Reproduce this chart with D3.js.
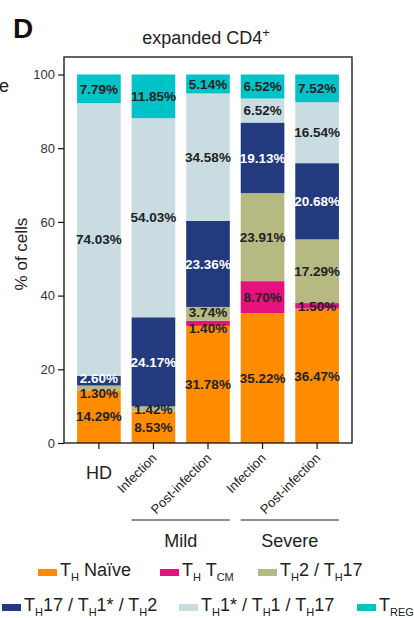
<!DOCTYPE html>
<html>
<head>
<meta charset="utf-8">
<script src="https://cdn.jsdelivr.net/npm/d3@7"></script>
<style>
  body { margin: 0; background: #fff; }
  svg { display: block; font-family: "Liberation Sans", Arial, sans-serif; }
</style>
</head>
<body>
<svg id="chart" width="414" height="618"></svg>
<script>
// Categories (bars) and their tick labels
const categories = ["HD", "Mild Infection", "Mild Post-infection", "Severe Infection", "Severe Post-infection"];
const tickLabels = ["HD", "Infection", "Post-infection", "Infection", "Post-infection"];

// Subsets, bottom to top
const subsets = ["naive", "tcm", "th2th17", "th17th1th2", "th1", "treg"];
const subsetColors = ["#ff8c00", "#e5127d", "#b6b982", "#243a7e", "#c8dce1", "#00c3c8"];

// % of cells per subset, one value per category
const naive = [14.29, 8.53, 31.78, 35.22, 36.47];
const tcm = [0, 0, 1.40, 8.70, 1.50];
const th2th17 = [1.30, 1.42, 3.74, 23.91, 17.29];
const th17th1th2 = [2.60, 24.17, 23.36, 19.13, 20.68];
const th1 = [74.03, 54.03, 34.58, 6.52, 16.54];
const treg = [7.79, 11.85, 5.14, 6.52, 7.52];

const yTicks = [0, 20, 40, 60, 80, 100];

// build rows for d3.stack
const series = { naive, tcm, th2th17, th17th1th2, th1, treg };
const rows = categories.map((c, i) => {
  const r = { cat: c };
  subsets.forEach(s => r[s] = series[s][i]);
  return r;
});

const svg = d3.select("#chart");
const plotLeft = 64, plotRight = 352, plotTop = 57, plotBottom = 443;

const x = d3.scaleBand()
  .domain(categories)
  .range([plotLeft, plotRight])
  .paddingInner(0.2)
  .paddingOuter(0.24);

const y = d3.scaleLinear()
  .domain([0, 100])
  .range([plotBottom, 74.5]);

const color = d3.scaleOrdinal().domain(subsets).range(subsetColors);

const stacked = d3.stack().keys(subsets)(rows);

// bars
const layers = svg.append("g")
  .selectAll("g")
  .data(stacked)
  .join("g")
  .attr("fill", d => color(d.key));

layers.selectAll("rect")
  .data(d => d)
  .join("rect")
  .attr("x", d => x(d.data.cat))
  .attr("width", x.bandwidth())
  .attr("y", d => y(d[1]))
  .attr("height", d => y(d[0]) - y(d[1]));

// frame
svg.append("rect")
  .attr("x", plotLeft)
  .attr("y", plotTop)
  .attr("width", plotRight - plotLeft)
  .attr("height", plotBottom - plotTop)
  .attr("fill", "none")
  .attr("stroke", "#111")
  .attr("stroke-width", 1.3);

// value labels: a thin slice sitting under another small slice is pushed
// down and the one above nudged up, so the two labels don't collide
const thin = 1.45;
const labels = [];
stacked.forEach(layer => {
  layer.forEach(d => {
    const v = d[1] - d[0];
    if (v > 0) labels.push({ key: layer.key, cat: d.data.cat, v, mid: (d[0] + d[1]) / 2, shift: 0 });
  });
});
categories.forEach(c => {
  const col = labels.filter(l => l.cat === c);
  for (let i = 0; i < col.length - 1; i++) {
    if (col[i].v < thin && col[i + 1].v < 4) {
      col[i].shift = 5;
      col[i + 1].shift = -2;
    }
  }
});

svg.append("g")
  .selectAll("text")
  .data(labels)
  .join("text")
  .attr("x", d => x(d.cat) + x.bandwidth() / 2)
  .attr("y", d => y(d.mid) + d.shift)
  .attr("dy", "0.35em")
  .attr("text-anchor", "middle")
  .attr("font-size", 13.5)
  .attr("font-weight", "bold")
  .attr("fill", d => d.key === "th17th1th2" ? "#fff" : "#222")
  .text(d => d.v.toFixed(2) + "%");

// y axis
const yAxis = svg.append("g")
  .attr("transform", `translate(${plotLeft},0)`)
  .call(d3.axisLeft(y).tickValues(yTicks).tickSize(6).tickPadding(3));
yAxis.select(".domain").remove();
yAxis.selectAll("line").attr("stroke", "#111").attr("stroke-width", 1.2);
yAxis.selectAll("text")
  .attr("font-size", 13)
  .attr("font-family", "Liberation Sans, Arial, sans-serif")
  .attr("fill", "#333");

// x axis ticks
const xAxis = svg.append("g")
  .attr("transform", `translate(0,${plotBottom})`)
  .call(d3.axisBottom(x).tickSize(6).tickFormat(""));
xAxis.select(".domain").remove();
xAxis.selectAll("line").attr("stroke", "#111").attr("stroke-width", 1.2);

// x tick labels
categories.forEach((c, i) => {
  const cx = x(c) + x.bandwidth() / 2;
  if (i === 0) {
    svg.append("text")
      .attr("x", cx)
      .attr("y", 479)
      .attr("text-anchor", "middle")
      .attr("font-size", 18)
      .attr("fill", "#222")
      .text(tickLabels[i]);
  } else {
    svg.append("text")
      .attr("transform", `translate(${cx + 4},${459}) rotate(-45)`)
      .attr("text-anchor", "end")
      .attr("font-size", 13)
      .attr("fill", "#222")
      .text(tickLabels[i]);
  }
});

// group brackets
const groups = [
  { name: "Mild", from: categories[1], to: categories[2] },
  { name: "Severe", from: categories[3], to: categories[4] }
];
groups.forEach(g => {
  const x0 = x(g.from), x1 = x(g.to) + x.bandwidth();
  svg.append("line")
    .attr("x1", x0).attr("x2", x1)
    .attr("y1", 520).attr("y2", 520)
    .attr("stroke", "#222").attr("stroke-width", 1.2);
  svg.append("text")
    .attr("x", (x0 + x1) / 2)
    .attr("y", 547)
    .attr("text-anchor", "middle")
    .attr("font-size", 18)
    .attr("fill", "#222")
    .text(g.name);
});

// title, panel letter, y label
const title = svg.append("text")
  .attr("x", 206).attr("y", 44)
  .attr("text-anchor", "middle")
  .attr("font-size", 18)
  .attr("fill", "#222");
title.append("tspan").text("expanded CD4");
title.append("tspan").attr("dy", -7).attr("font-size", 13).text("+");

svg.append("text")
  .attr("x", 13).attr("y", 38)
  .attr("font-size", 28)
  .attr("font-weight", "bold")
  .attr("fill", "#111")
  .text("D");

svg.append("text")
  .attr("x", -1).attr("y", 92)
  .attr("font-size", 18)
  .attr("fill", "#222")
  .text("e");

svg.append("text")
  .attr("transform", `translate(27,${(plotTop + plotBottom) / 2 + 4}) rotate(-90)`)
  .attr("text-anchor", "middle")
  .attr("font-size", 17)
  .attr("fill", "#222")
  .text("% of cells");

// legend: label parts [text, isSubscript]
const legendItems = [
  { key: "naive", x: 38, y: 576, parts: [["T", 0], ["H", 1], [" Naïve", 0]] },
  { key: "tcm", x: 160, y: 576, parts: [["T", 0], ["H", 1], [" T", 0], ["CM", 1]] },
  { key: "th2th17", x: 258, y: 576, parts: [["T", 0], ["H", 1], ["2 / T", 0], ["H", 1], ["17", 0]] },
  { key: "th17th1th2", x: 2, y: 611, parts: [["T", 0], ["H", 1], ["17 / T", 0], ["H", 1], ["1* / T", 0], ["H", 1], ["2", 0]] },
  { key: "th1", x: 179, y: 611, parts: [["T", 0], ["H", 1], ["1* / T", 0], ["H", 1], ["1 / T", 0], ["H", 1], ["17", 0]] },
  { key: "treg", x: 357, y: 611, parts: [["T", 0], ["REG", 1]] }
];

legendItems.forEach(item => {
  svg.append("rect")
    .attr("x", item.x).attr("y", item.y - 7)
    .attr("width", 19).attr("height", 7)
    .attr("fill", color(item.key));
  const t = svg.append("text")
    .attr("x", item.x + 22).attr("y", item.y)
    .attr("font-size", 18)
    .attr("fill", "#222");
  let sub = false;
  item.parts.forEach(([s, isSub]) => {
    const ts = t.append("tspan").text(s);
    if (isSub && !sub) { ts.attr("dy", 5).attr("font-size", 11); sub = true; }
    else if (isSub) { ts.attr("font-size", 11); }
    else if (sub) { ts.attr("dy", -5); sub = false; }
  });
});
</script>
</body>
</html>
